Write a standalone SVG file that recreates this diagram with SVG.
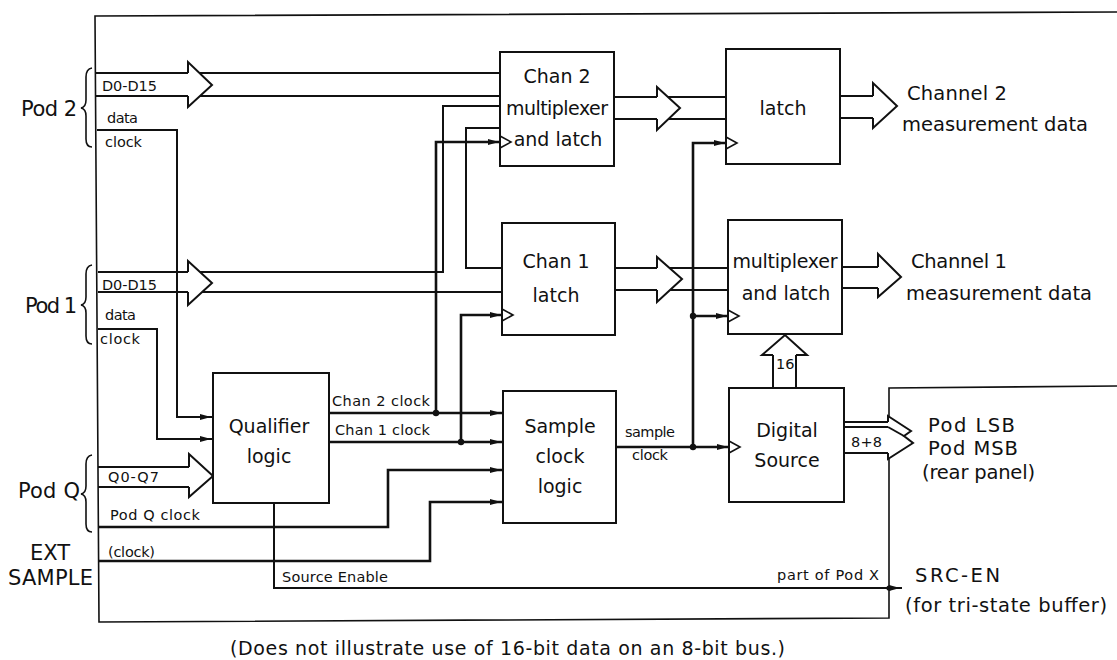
<svg xmlns="http://www.w3.org/2000/svg" width="1117" height="660" viewBox="0 0 1117 660">
<style>
text{font-family:"DejaVu Sans","Liberation Sans",sans-serif;fill:#111}
.big{font-size:21px}
.box{font-size:19px;text-anchor:middle}
.side{font-size:19.5px}
.sm{font-size:14.5px}
.ln{fill:none;stroke:#111;stroke-width:2}
.th{fill:none;stroke:#111;stroke-width:2.6}
.fr{fill:none;stroke:#111;stroke-width:1.6}
.hd{fill:#fff;stroke:#111;stroke-width:2;stroke-linejoin:miter}
.nb{fill:#fff;stroke:#111;stroke-width:2}
.ck{fill:none;stroke:#111;stroke-width:1.6}
.dot{fill:#111}
</style>
<defs>
<marker id="ar" markerUnits="userSpaceOnUse" markerWidth="14" markerHeight="8" refX="13" refY="3.5" orient="auto">
<path d="M0,0.5 L11,3.5 L0,6.5 z" fill="#111"/>
</marker>
</defs>
<rect width="1117" height="660" fill="#fff"/>
<g id="frame">
<path class="fr" d="M1117,12 L95,16 L99,622 L889,618 L889,388 L1117,386"/>
</g>
<g id="connectors">
<path class="ln" d="M96,73 H500 M96,96 H500"/>
<path class="hd" d="M188,73 L188,62 L212,85 L188,107 L188,96"/>
<path class="ln" d="M97,130 H177 V417 H213" marker-end="url(#ar)"/>
<path class="ln" d="M98,272 H443 V106 H500 M98,292 H502"/>
<path class="hd" d="M188,272 L188,261 L212,283 L188,305 L188,292"/>
<path class="ln" d="M500,128 H466 V268 H502"/>
<path class="ln" d="M98,329 H157 V439 H213" marker-end="url(#ar)"/>
<path class="ln" d="M98,467 H189 M98,487 H189"/>
<path class="hd" d="M189,467 L189,454 L213,476 L189,497 L189,487"/>
<path class="th" d="M98,527 H388 V470 H503" marker-end="url(#ar)"/>
<path class="th" d="M98,561 H430 V502 H503" marker-end="url(#ar)"/>
<path class="th" d="M329,413 H503" marker-end="url(#ar)"/>
<path class="th" d="M329,442 H503" marker-end="url(#ar)"/>
<path class="th" d="M436,413 V142 H501" marker-end="url(#ar)"/>
<path class="th" d="M461,442 V315 H503" marker-end="url(#ar)"/>
<circle class="dot" cx="436" cy="413" r="3.2"/>
<circle class="dot" cx="461" cy="442" r="3.2"/>
<path class="ln" d="M274,503 V588 H902" marker-end="url(#ar)"/>
<circle class="dot" cx="889" cy="588" r="2.6"/>
<path class="th" d="M616,447 H730" marker-end="url(#ar)"/>
<path class="th" d="M693,447 V143 H727" marker-end="url(#ar)"/>
<path class="th" d="M693,316 H729" marker-end="url(#ar)"/>
<circle class="dot" cx="693" cy="447" r="3.2"/>
<circle class="dot" cx="693" cy="316" r="3.2"/>
<path class="ln" d="M614,97 H726 M614,119 H726"/>
<path class="hd" d="M657,97 L657,87 L680,108 L657,130 L657,119"/>
<path class="ln" d="M615,268 H728 M615,290 H728"/>
<path class="hd" d="M657,268 L657,257 L682,279 L657,302 L657,290"/>
<path class="ln" d="M840,96 H873 M840,118 H873"/>
<path class="hd" d="M873,96 L873,83 L897,106 L873,128 L873,118"/>
<path class="ln" d="M842,267 H878 M842,288 H878"/>
<path class="hd" d="M878,267 L878,254 L901,277 L878,297 L878,288"/>
<path class="ln" d="M773,388 V355 M796,388 V355"/>
<path class="hd" d="M773,355 L762,355 L785,335 L807,355 L796,355"/>
<path class="ln" d="M844,422 H888 M844,427 H888 M844,453 H888"/>
<path class="hd" d="M888,422 L888,416 L911,431 L904,436 L913,443 L888,459 L888,453"/>
<path class="ln" d="M888,427 L904,436"/>
</g>
<g id="pod2">
<text class="big" x="21" y="116" textLength="56">Pod 2</text>
<path class="fr" d="M92,68 Q86,69 86,77 L86,100 Q86,107 81,108 Q86,109 86,116 L86,139 Q86,147 92,147"/>
<text class="sm" x="102" y="91" textLength="55">D0-D15</text>
<text class="sm" x="107" y="123" textLength="31">data</text>
<text class="sm" x="105" y="147" textLength="37">clock</text>
</g>
<g id="pod1">
<text class="big" x="25" y="313" textLength="52">Pod 1</text>
<path class="fr" d="M92,265 Q86,266 86,274 L86,297 Q86,304 81,305 Q86,306 86,313 L86,336 Q86,344 92,344"/>
<text class="sm" x="102" y="290" textLength="55">D0-D15</text>
<text class="sm" x="105" y="320" textLength="31">data</text>
<text class="sm" x="100" y="344" textLength="40">clock</text>
</g>
<g id="podq">
<text class="big" x="18" y="498" textLength="62">Pod Q</text>
<path class="fr" d="M92,455 Q86,456 86,464 L86,486 Q86,493 81,494 Q86,495 86,502 L86,524 Q86,532 92,532"/>
<text class="sm" x="108" y="482" textLength="51">Q0-Q7</text>
<text class="sm" x="110" y="520" textLength="90">Pod Q clock</text>
</g>
<g id="ext">
<text class="big" x="30" y="560" textLength="40">EXT</text>
<text class="big" x="8" y="585" textLength="85">SAMPLE</text>
<text class="sm" x="108" y="557" textLength="47">(clock)</text>
</g>
<g id="qualifier">
<rect class="nb" x="213" y="373" width="116" height="130"/>
<text class="box" x="269" y="433">Qualifier</text>
<text class="box" x="269" y="463">logic</text>
<text class="sm" x="332" y="406" textLength="98">Chan 2 clock</text>
<text class="sm" x="335" y="435" textLength="95">Chan 1 clock</text>
<text class="sm" x="282" y="582" textLength="106">Source Enable</text>
</g>
<g id="chan2mux">
<rect class="nb" x="500" y="52" width="114" height="114"/>
<path class="ck" d="M500,136 L511,142 L500,148"/>
<text class="box" x="557" y="83">Chan 2</text>
<text class="box" x="557" y="115" textLength="102">multiplexer</text>
<text class="box" x="558" y="146">and latch</text>
</g>
<g id="chan1latch">
<rect class="nb" x="502" y="223" width="113" height="112"/>
<path class="ck" d="M502,309 L513,315 L502,321"/>
<text class="box" x="556" y="268">Chan 1</text>
<text class="box" x="556" y="302">latch</text>
</g>
<g id="latch2">
<rect class="nb" x="726" y="49" width="114" height="115"/>
<path class="ck" d="M726,137 L737,143 L726,149"/>
<text class="box" x="783" y="115">latch</text>
</g>
<g id="mux1">
<rect class="nb" x="728" y="220" width="114" height="114"/>
<path class="ck" d="M728,310 L739,316 L728,322"/>
<text class="box" x="785" y="268" textLength="105">multiplexer</text>
<text class="box" x="786" y="300">and latch</text>
</g>
<g id="sampleclock">
<rect class="nb" x="503" y="391" width="113" height="132"/>
<text class="box" x="560" y="433">Sample</text>
<text class="box" x="560" y="463">clock</text>
<text class="box" x="560" y="493">logic</text>
<text class="sm" x="625" y="437" textLength="50">sample</text>
<text class="sm" x="632" y="460" textLength="36">clock</text>
</g>
<g id="digitalsource">
<rect class="nb" x="729" y="388" width="115" height="114"/>
<path class="ck" d="M729,441 L740,447 L729,453"/>
<text class="box" x="787" y="437">Digital</text>
<text class="box" x="787" y="467">Source</text>
<text class="sm" x="776" y="369">16</text>
<text class="sm" x="851" y="447" textLength="31">8+8</text>
</g>
<g id="outputs">
<text class="side" x="907" y="100" textLength="100">Channel 2</text>
<text class="side" x="902" y="131" textLength="186">measurement data</text>
<text class="side" x="911" y="268" textLength="96">Channel 1</text>
<text class="side" x="906" y="300" textLength="186">measurement data</text>
<text class="side" x="928" y="432" textLength="87">Pod LSB</text>
<text class="side" x="928" y="455" textLength="90">Pod MSB</text>
<text class="side" x="922" y="479" textLength="113">(rear panel)</text>
<text class="sm" x="777" y="580" textLength="102">part of Pod X</text>
<text class="side" x="915" y="582" textLength="85">SRC-EN</text>
<text class="side" x="905" y="612" textLength="202">(for tri-state buffer)</text>
</g>
<g id="note">
<text x="230" y="655" style="font-size:19px" textLength="555">(Does not illustrate use of 16-bit data on an 8-bit bus.)</text>
</g>
</svg>
